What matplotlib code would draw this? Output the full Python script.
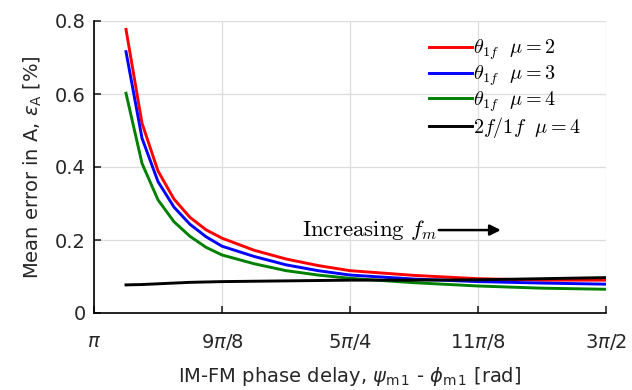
import numpy as np
import matplotlib
matplotlib.use("Agg")
import matplotlib.pyplot as plt
from matplotlib.font_manager import FontProperties

# sample index k: phase = pi + k*pi/64
k = [2, 3, 4, 5, 6, 7, 8, 10, 12, 14, 16, 20, 24, 28, 32]
red = [0.777, 0.520, 0.389, 0.312, 0.262, 0.228, 0.205, 0.172, 0.148, 0.130, 0.116, 0.103, 0.094, 0.090, 0.090]
blue = [0.716, 0.479, 0.360, 0.290, 0.243, 0.209, 0.183, 0.155, 0.132, 0.116, 0.104, 0.093, 0.086, 0.082, 0.079]
green = [0.602, 0.410, 0.310, 0.250, 0.210, 0.180, 0.159, 0.135, 0.116, 0.104, 0.095, 0.083, 0.074, 0.068, 0.065]
black = [0.077, 0.078, 0.080, 0.082, 0.084, 0.085, 0.086, 0.087, 0.088, 0.089, 0.090, 0.090, 0.091, 0.094, 0.097]

labels = [r'$\theta_{1f}\ \ \mu=2$', r'$\theta_{1f}\ \ \mu=3$',
          r'$\theta_{1f}\ \ \mu=4$', r'$2f/1f\ \ \mu=4$']
colors = ['#ff0000', '#0000ff', '#008000', '#000000']

xticks = [np.pi, 9*np.pi/8, 5*np.pi/4, 11*np.pi/8, 3*np.pi/2]
xticklabels = [r'$\pi$', r'$9\pi/8$', r'$5\pi/4$', r'$11\pi/8$', r'$3\pi/2$']
yticks = [0, 0.2, 0.4, 0.6, 0.8]
yticklabels = ['0', '0.2', '0.4', '0.6', '0.8']

x = np.pi + np.array(k) * np.pi / 64

fig = plt.figure(figsize=(6.32, 3.9), dpi=100)
ax = fig.add_axes([94/632, 77/390, 512/632, 292/390])

for y, c, lab in zip([red, blue, green, black], colors, labels):
    ax.plot(x, y, color=c, lw=2.1, label=lab)

ax.set_xlim(np.pi, 3*np.pi/2)
ax.set_ylim(0, 0.8)
ax.set_xticks(xticks)
ax.set_xticklabels(xticklabels)
ax.set_yticks(yticks)
ax.set_yticklabels(yticklabels)
ax.grid(True, color='#dcdcdc', lw=0.9)
ax.set_axisbelow(True)
for s in ['top', 'right']:
    ax.spines[s].set_visible(False)
for s in ['left', 'bottom']:
    ax.spines[s].set_linewidth(1.2)
ax.tick_params(direction='in', length=5, width=1.2, labelsize=14, colors='#262626')
ax.tick_params(axis='x', pad=14)
ax.tick_params(axis='y', pad=6)

ax.set_xlabel(r'IM-FM phase delay, $\psi_{\rm m\,1}$ - $\phi_{\rm m\,1}$ [rad]', fontsize=14, color='#262626', labelpad=9)
ax.set_ylabel(r'Mean error in A, $\epsilon_{\rm A}$ [%]', fontsize=14, color='#262626', labelpad=8)

leg = ax.legend(loc='upper left', bbox_to_anchor=(0.655, 0.943), frameon=False,
                prop=FontProperties(size=14.5, math_fontfamily='cm'),
                handlelength=2.1, handletextpad=0.05, labelspacing=0.055,
                borderpad=0, borderaxespad=0)

ax.annotate('', xy=(0.800, 0.284), xytext=(0.668, 0.284), xycoords='axes fraction',
            arrowprops=dict(arrowstyle='-|>', color='k', lw=1.8, mutation_scale=16))
ax.text(0.670, 0.284, r'$\mathrm{Increasing}\ f_m$', transform=ax.transAxes,
        ha='right', va='center', fontsize=16.5, math_fontfamily='cm')

fig.savefig('out.png', dpi=100)
